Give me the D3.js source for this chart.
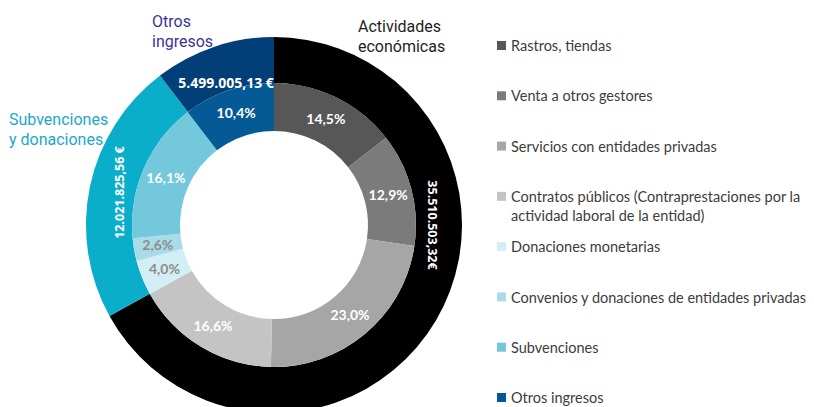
<!DOCTYPE html>
<html>
<head>
<meta charset="utf-8">
<script src="https://cdn.jsdelivr.net/npm/d3@7"></script>
<style>
  body { margin: 0; background: #fff; }
  svg { display: block; }
</style>
</head>
<body>
<div id="chart"></div>
<script>
// outer ring: the three groups
var groupNames = ["Actividades económicas", "Subvenciones y donaciones", "Otros ingresos"];
var groupValues = [35510503.32, 12021825.56, 5499005.13];
var groupLabels = ["35.510.503,32€", "12.021.825,56 €", "5.499.005,13 €"];
var groupColors = ["#000000", "#0aaecb", "#023f78"];

// inner ring: detail in percent
var detailNames = ["Rastros, tiendas", "Venta a otros gestores", "Servicios con entidades privadas",
  "Contratos públicos (Contraprestaciones por la|actividad laboral de la entidad)",
  "Donaciones monetarias", "Convenios y donaciones de entidades privadas", "Subvenciones", "Otros ingresos"];
var detailValues = [14.5, 12.9, 23.0, 16.6, 4.0, 2.6, 16.1, 10.4];
var detailLabels = ["14,5%", "12,9%", "23,0%", "16,6%", "4,0%", "2,6%", "16,1%", "10,4%"];
var detailColors = ["#575757", "#7b7b7b", "#a6a6a6", "#c4c4c4", "#d4eef5", "#a9dce8", "#74c8dc", "#055a96"];
var detailTextColors = ["#fff", "#fff", "#fff", "#fff", "#8c8c8c", "#8c8c8c", "#fff", "#fff"];

var width = 814, height = 407;
var cx = 274, cy = 225;
var rOuter = 188, rMid = 142, rHole = 94;

var svg = d3.select("#chart").append("svg")
  .attr("width", width)
  .attr("height", height);

var g = svg.append("g")
  .attr("transform", "translate(" + cx + "," + cy + ")");

var pie = d3.pie().sort(null).value(function(d){ return d; });

var outerArc = d3.arc().innerRadius(rMid).outerRadius(rOuter);
var innerArc = d3.arc().innerRadius(rHole).outerRadius(rMid);

var outerSlices = pie(groupValues);
var innerSlices = pie(detailValues);

g.selectAll("path.outer")
  .data(outerSlices)
  .enter().append("path")
  .attr("class", "outer")
  .attr("d", outerArc)
  .attr("fill", function(d, i){ return groupColors[i]; });

g.selectAll("path.inner")
  .data(innerSlices)
  .enter().append("path")
  .attr("class", "inner")
  .attr("d", innerArc)
  .attr("fill", function(d, i){ return detailColors[i]; });

// percent labels
g.selectAll("text.pct")
  .data(innerSlices)
  .enter().append("text")
  .attr("class", "pct")
  .attr("transform", function(d){ return "translate(" + innerArc.centroid(d) + ")"; })
  .attr("text-anchor", "middle")
  .attr("dy", "0.35em")
  .style("font-family", "Lato, 'Open Sans', sans-serif")
  .style("font-weight", "bold")
  .style("font-size", "14px")
  .style("fill", function(d, i){ return detailTextColors[i]; })
  .text(function(d, i){ return detailLabels[i]; });

// amount labels on the outer ring
outerSlices.forEach(function(d, i){
  var a = (d.startAngle + d.endAngle) / 2;
  var rot = 0, r = 158, size = "12.5px";
  if (i == 0) { a = Math.PI / 2; rot = 90; }
  if (i == 1) { rot = -90; }
  if (i == 2) { r = 150; size = "14px"; }
  var x = r * Math.sin(a), y = -r * Math.cos(a);
  g.append("text")
    .attr("transform", "translate(" + x + "," + y + ") rotate(" + rot + ")")
    .attr("text-anchor", "middle")
    .attr("dy", "0.35em")
    .style("font-family", "'Open Sans', sans-serif")
    .style("font-weight", "bold")
    .style("font-size", size)
    .style("fill", "#fff")
    .text(groupLabels[i]);
});

// group callouts
var callouts = [
  {lines: ["Actividades", "económicas"], x: 358, y: 32, color: "#1e1e1e"},
  {lines: ["Subvenciones", "y donaciones"], x: 9, y: 125, color: "#1ca7c9"},
  {lines: ["Otros", "ingresos"], x: 152, y: 27, color: "#3b3394"}
];
callouts.forEach(function(c){
  var t = svg.append("text")
    .attr("x", c.x).attr("y", c.y)
    .style("font-family", "Roboto, sans-serif")
    .style("font-size", "16px")
    .style("fill", c.color);
  c.lines.forEach(function(l, j){
    t.append("tspan").attr("x", c.x).attr("dy", j == 0 ? 0 : 20).text(l);
  });
});

// legend
var ly = d3.scalePoint().domain(d3.range(detailNames.length)).range([46, 398]);
var legend = svg.append("g");
detailNames.forEach(function(name, i){
  var y = ly(i);
  legend.append("rect")
    .attr("x", 497).attr("y", y - 5)
    .attr("width", 9).attr("height", 9)
    .attr("fill", detailColors[i]);
  var t = legend.append("text")
    .attr("x", 511).attr("y", y)
    .style("font-family", "Lato, sans-serif")
    .style("font-size", "14.5px")
    .style("fill", "#3c3c3c");
  name.split("|").forEach(function(l, j){
    t.append("tspan").attr("x", 511).attr("dy", j == 0 ? "0.35em" : 19).text(l);
  });
});
</script>
</body>
</html>
